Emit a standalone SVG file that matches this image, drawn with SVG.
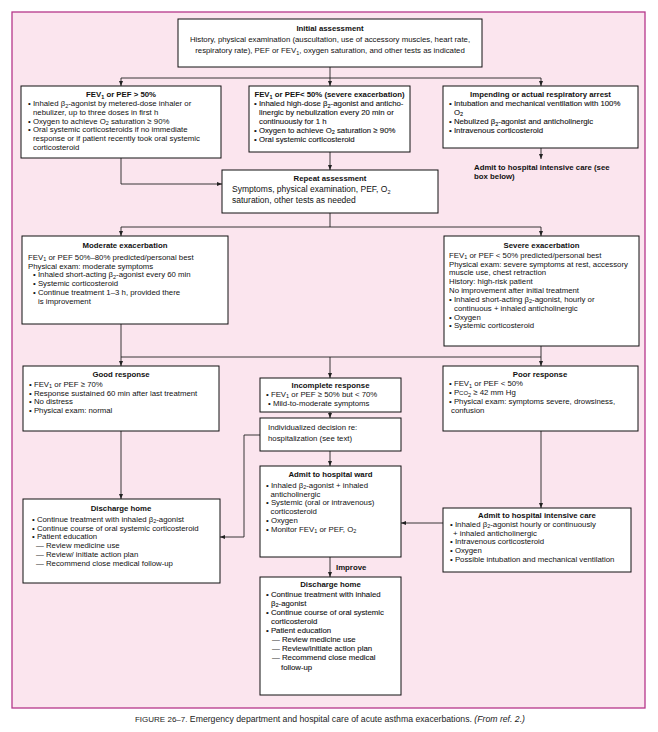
<svg xmlns="http://www.w3.org/2000/svg" width="658" height="732" viewBox="0 0 658 732">
<style>
text{font-family:"Liberation Sans",Arial,sans-serif;font-size:7.8px;fill:#111}
.c{text-anchor:middle}
.b{font-weight:bold}
.h{stroke:#111;stroke-width:.1}
.s{font-size:5.5px}
.L{font-size:8.5px}
.box{fill:#fff;stroke:#111;stroke-width:1}
.ln{fill:none;stroke:#222;stroke-width:.9}
.cap{font-size:8.7px;fill:#222}
</style>
<defs>
<marker id="ah" viewBox="0 0 6 6" refX="6" refY="3" markerWidth="5" markerHeight="5" markerUnits="userSpaceOnUse" orient="auto"><path d="M0,0.6 L6,3 L0,5.4z" fill="#222"/></marker>
</defs>
<rect x="12" y="12" width="633" height="696" fill="#fbe5ee" stroke="#b5378a" stroke-width="1.3"/>

<g id="connectors">
<path class="ln" d="M330,67 V78 M121,78 H541"/>
<path class="ln" d="M121,78 V86" marker-end="url(#ah)"/>
<path class="ln" d="M330,78 V86" marker-end="url(#ah)"/>
<path class="ln" d="M541,78 V86" marker-end="url(#ah)"/>
<path class="ln" d="M541,148 V159" marker-end="url(#ah)"/>
<path class="ln" d="M121,158 V184 H222" marker-end="url(#ah)"/>
<path class="ln" d="M330,152 V170" marker-end="url(#ah)"/>
<path class="ln" d="M330,213 V227 M121,227 H541"/>
<path class="ln" d="M121,227 V236" marker-end="url(#ah)"/>
<path class="ln" d="M541,227 V236" marker-end="url(#ah)"/>
<path class="ln" d="M121,324 V357 M541,346 V357 M121,357 H541"/>
<path class="ln" d="M121,357 V366" marker-end="url(#ah)"/>
<path class="ln" d="M330,357 V378" marker-end="url(#ah)"/>
<path class="ln" d="M541,357 V366" marker-end="url(#ah)"/>
<path class="ln" d="M330,412 V418" marker-end="url(#ah)"/>
<path class="ln" d="M121,431 V499" marker-end="url(#ah)"/>
<path class="ln" d="M260,435 H244 V537 H220" marker-end="url(#ah)"/>
<path class="ln" d="M330,451 V466" marker-end="url(#ah)"/>
<path class="ln" d="M541,431 V508" marker-end="url(#ah)"/>
<path class="ln" d="M443,523 H401" marker-end="url(#ah)"/>
<path class="ln" d="M330,557 V577" marker-end="url(#ah)"/>
<text class="b" x="336" y="570">Improve</text>
</g>

<g id="initial">
<rect class="box" x="178" y="19" width="304" height="48"/>
<text class="c b" x="330" y="30.5">Initial assessment</text>
<text class="c" x="330" y="41.5">History, physical examination (auscultation, use of accessory muscles, heart rate,</text>
<text class="c" x="330" y="53">respiratory rate), PEF or FEV<tspan class="s" dy="1.5">1</tspan><tspan dy="-1.5">, oxygen saturation, and other tests as indicated</tspan></text>
</g>

<g id="fev-above-50">
<rect class="box" x="21" y="86" width="200" height="72"/>
<text class="c b" x="121" y="97">FEV<tspan class="s" dy="1.5">1</tspan><tspan dy="-1.5"> or PEF &gt; 50%</tspan></text>
<text x="28" y="106">• Inhaled β<tspan class="s" dy="1.5">2</tspan><tspan dy="-1.5">-agonist by metered-dose inhaler or</tspan></text>
<text x="33" y="114.8">nebulizer, up to three doses in first h</text>
<text x="28" y="123.6">• Oxygen to achieve O<tspan class="s" dy="1.5">2</tspan><tspan dy="-1.5"> saturation ≥ 90%</tspan></text>
<text x="28" y="132.4">• Oral systemic corticosteroids if no immediate</text>
<text x="33" y="141.2">response or if patient recently took oral systemic</text>
<text x="33" y="150">corticosteroid</text>
</g>

<g id="fev-below-50">
<rect class="box" x="249" y="86" width="161" height="66"/>
<text class="c b" x="329.5" y="97">FEV<tspan class="s" dy="1.5">1</tspan><tspan dy="-1.5"> or PEF&lt; 50% (severe exacerbation)</tspan></text>
<text class="h" x="254" y="106">• Inhaled high-dose β<tspan class="s" dy="1.5">2</tspan><tspan dy="-1.5">-agonist and anticho-</tspan></text>
<text class="h" x="259" y="114.8">linergic by nebulization every 20 min or</text>
<text class="h" x="259" y="123.6">continuously for 1 h</text>
<text class="h" x="254" y="132.6">• Oxygen to achieve O<tspan class="s" dy="1.5">2</tspan><tspan dy="-1.5"> saturation ≥ 90%</tspan></text>
<text class="h" x="254" y="141.6">• Oral systemic corticosteroid</text>
</g>

<g id="respiratory-arrest">
<rect class="box" x="443" y="86" width="195" height="62"/>
<text class="c b" x="540.5" y="97">Impending or actual respiratory arrest</text>
<text class="h" x="449" y="106">• Intubation and mechanical ventilation with 100%</text>
<text class="h" x="454" y="114.8">O<tspan class="s" dy="1.5">2</tspan></text>
<text class="h" x="449" y="124">• Nebulized β<tspan class="s" dy="1.5">2</tspan><tspan dy="-1.5">-agonist and anticholinergic</tspan></text>
<text class="h" x="449" y="133">• Intravenous corticosteroid</text>
</g>

<g id="admit-icu-note">
<text class="b" x="474" y="169.5">Admit to hospital intensive care (see</text>
<text class="b" x="474" y="178.5">box below)</text>
</g>

<g id="repeat-assessment">
<rect class="box" x="222" y="170" width="216" height="43"/>
<text class="c b" x="330" y="180.5">Repeat assessment</text>
<text class="L" x="232" y="192">Symptoms, physical examination, PEF, O<tspan class="s" dy="1.5">2</tspan></text>
<text class="L" x="232" y="203">saturation, other tests as needed</text>
</g>

<g id="moderate">
<rect class="box" x="22" y="236" width="206" height="88"/>
<text class="c b" x="125" y="247.5">Moderate exacerbation</text>
<text x="28" y="259.5">FEV<tspan class="s" dy="1.5">1</tspan><tspan dy="-1.5"> or PEF 50%–80% predicted/personal best</tspan></text>
<text x="28" y="268.5">Physical exam: moderate symptoms</text>
<text x="33" y="277.3">• Inhaled short-acting β<tspan class="s" dy="1.5">2</tspan><tspan dy="-1.5">-agonist every 60 min</tspan></text>
<text x="33" y="286.3">• Systemic corticosteroid</text>
<text x="33" y="295.1">• Continue treatment 1–3 h, provided there</text>
<text x="38" y="303.9">is improvement</text>
</g>

<g id="severe">
<rect class="box" x="444" y="236" width="195" height="110"/>
<text class="c b" x="541.5" y="247.5">Severe exacerbation</text>
<text x="449" y="257.5">FEV<tspan class="s" dy="1.5">1</tspan><tspan dy="-1.5"> or PEF &lt; 50% predicted/personal best</tspan></text>
<text x="449" y="266.5">Physical exam: severe symptoms at rest, accessory</text>
<text x="449" y="275.3">muscle use, chest retraction</text>
<text x="449" y="284.1">History: high-risk patient</text>
<text x="449" y="292.9">No improvement after initial treatment</text>
<text x="449" y="301.7">• Inhaled short-acting β<tspan class="s" dy="1.5">2</tspan><tspan dy="-1.5">-agonist, hourly or</tspan></text>
<text x="454" y="310.7">continuous + inhaled anticholinergic</text>
<text x="449" y="319.5">• Oxygen</text>
<text x="449" y="328.3">• Systemic corticosteroid</text>
</g>

<g id="good-response">
<rect class="box" x="23" y="366" width="196" height="65"/>
<text class="c b" x="121" y="377">Good response</text>
<text x="29" y="386.5">• FEV<tspan class="s" dy="1.5">1</tspan><tspan dy="-1.5"> or PEF ≥ 70%</tspan></text>
<text x="29" y="395.5">• Response sustained 60 min after last treatment</text>
<text x="29" y="404.3">• No distress</text>
<text x="29" y="413.1">• Physical exam: normal</text>
</g>

<g id="incomplete-response">
<rect class="box" x="260" y="378" width="141" height="34"/>
<text class="c b" x="330.5" y="387.5">Incomplete response</text>
<text x="266" y="396.5">• FEV<tspan class="s" dy="1.5">1</tspan><tspan dy="-1.5"> or PEF ≥ 50% but &lt; 70%</tspan></text>
<text x="268" y="405.5">• Mild-to-moderate symptoms</text>
</g>

<g id="individualized-decision">
<rect class="box" x="260" y="418" width="141" height="33"/>
<text x="268" y="430">Individualized decision re:</text>
<text x="268" y="441">hospitalization (see text)</text>
</g>

<g id="poor-response">
<rect class="box" x="443" y="366" width="195" height="65"/>
<text class="c b" x="540" y="377">Poor response</text>
<text x="449" y="386">• FEV<tspan class="s" dy="1.5">1</tspan><tspan dy="-1.5"> or PEF &lt; 50%</tspan></text>
<text x="449" y="395">• P<tspan font-size="6px">CO</tspan><tspan class="s" dy="1.5">2</tspan><tspan dy="-1.5"> ≥ 42 mm Hg</tspan></text>
<text x="449" y="404">• Physical exam: symptoms severe, drowsiness,</text>
<text x="451" y="412.8">confusion</text>
</g>

<g id="discharge-home-1">
<rect class="box" x="23" y="499" width="197" height="84"/>
<text class="c b" x="121" y="510.5">Discharge home</text>
<text x="32" y="521.5">• Continue treatment with inhaled β<tspan class="s" dy="1.5">2</tspan><tspan dy="-1.5">-agonist</tspan></text>
<text x="32" y="530.5">• Continue course of oral systemic corticosteroid</text>
<text x="32" y="539.3">• Patient education</text>
<text x="36" y="548.1">— Review medicine use</text>
<text x="36" y="556.9">— Review/ initiate action plan</text>
<text x="36" y="565.7">— Recommend close medical follow-up</text>
</g>

<g id="admit-ward">
<rect class="box" x="260" y="466" width="141" height="91"/>
<text class="c b" x="330.5" y="476.5">Admit to hospital ward</text>
<text x="266" y="487.5">• Inhaled β<tspan class="s" dy="1.5">2</tspan><tspan dy="-1.5">-agonist + inhaled</tspan></text>
<text x="270.5" y="496.5">anticholinergic</text>
<text x="266" y="505.3">• Systemic (oral or intravenous)</text>
<text x="270.5" y="514.1">corticosteroid</text>
<text x="266" y="522.9">• Oxygen</text>
<text x="266" y="531.7">• Monitor FEV<tspan class="s" dy="1.5">1</tspan><tspan dy="-1.5"> or PEF, O</tspan><tspan class="s" dy="1.5">2</tspan></text>
</g>

<g id="admit-icu">
<rect class="box" x="443" y="508" width="188" height="64"/>
<text class="c b" x="537" y="517.5">Admit to hospital intensive care</text>
<text x="450" y="526.5">• Inhaled β<tspan class="s" dy="1.5">2</tspan><tspan dy="-1.5">-agonist hourly or continuously</tspan></text>
<text x="453" y="535.5">+ inhaled anticholinergic</text>
<text x="450" y="544.3">• Intravenous corticosteroid</text>
<text x="450" y="553.1">• Oxygen</text>
<text x="450" y="561.9">• Possible intubation and mechanical ventilation</text>
</g>

<g id="discharge-home-2">
<rect class="box" x="260" y="577" width="141" height="118"/>
<text class="c b" x="330.5" y="586.5">Discharge home</text>
<text class="h" x="266" y="596.5">• Continue treatment with inhaled</text>
<text class="h" x="271" y="605.5">β<tspan class="s" dy="1.5">2</tspan><tspan dy="-1.5">-agonist</tspan></text>
<text class="h" x="266" y="614.7">• Continue course of oral systemic</text>
<text class="h" x="271" y="623.5">corticosteroid</text>
<text class="h" x="266" y="632.7">• Patient education</text>
<text class="h" x="272" y="641.9">— Review medicine use</text>
<text class="h" x="272" y="651.1">— Review/initiate action plan</text>
<text class="h" x="272" y="660.3">— Recommend close medical</text>
<text class="h" x="281" y="669.5">follow-up</text>
</g>

<text class="cap" x="330" y="722" text-anchor="middle"><tspan font-size="8px">FIGURE 26–7.</tspan>  Emergency department and hospital care of acute asthma exacerbations. <tspan font-style="italic">(From ref. 2.)</tspan></text>
</svg>
